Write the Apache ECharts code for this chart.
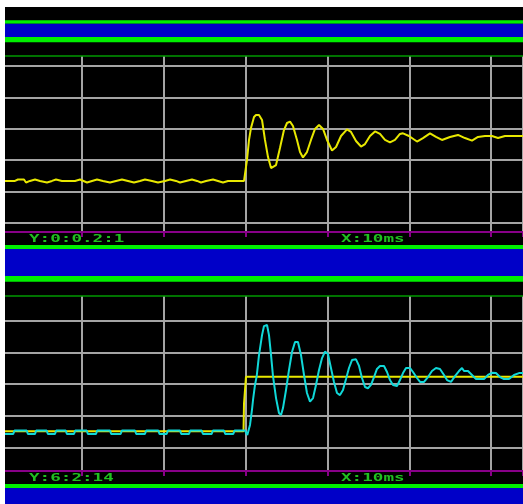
<!DOCTYPE html>
<html>
<head>
<meta charset="utf-8">
<script src="https://cdn.jsdelivr.net/npm/echarts@6/dist/echarts.min.js"></script>
<style>
html,body{margin:0;padding:0;background:#fff;}
#chart{width:523px;height:504px;}
</style>
</head>
<body>
<div id="chart"></div>
<script>
// ---- Data (time in ms, values in axis units) ----
const xMin = 0, xMax = 63.89, xStep = 10;
const topAxisMin = 0, topAxisMax = 1, topAxisStep = 0.2;
const botAxisMin = 6, botAxisMax = 14, botAxisStep = 2;
const topLabelY = "Y:0:0.2:1";
const botLabelY = "Y:6:2:14";
const labelX = "X:10ms";

const topYellowT = [0.61,1.83,2.20,2.93,3.18,3.66,4.28,4.89,5.74,6.35,6.84,7.57,9.16,9.77,10.63,11.24,11.85,12.58,13.44,14.17,14.90,15.64,16.37,17.10,17.71,18.57,19.30,20.16,20.77,21.50,21.99,22.72,23.45,24.07,24.55,25.17,26.02,26.63,27.24,27.85,28.71,29.81,
 30.05,30.17,30.42,30.66,31.03,31.27,31.64,32.01,32.37,32.74,33.11,33.35,33.72,34.20,34.69,35.06,35.43,35.79,36.28,36.65,37.01,37.50,37.99,38.48,38.97,39.46,39.95,40.56,41.05,41.66,42.39,42.88,43.49,44.10,44.59,45.20,45.81,46.42,47.03,47.64,48.25,48.86,49.23,49.96,50.94,51.67,52.53,53.26,53.99,54.97,55.95,56.80,57.66,58.39,59.25,60.10,60.84,61.69,63.89];
const topYellowV = [0.268,0.268,0.277,0.277,0.258,0.268,0.277,0.268,0.258,0.268,0.277,0.268,0.268,0.277,0.258,0.268,0.277,0.268,0.258,0.268,0.277,0.268,0.258,0.268,0.277,0.268,0.258,0.268,0.277,0.268,0.258,0.268,0.277,0.268,0.258,0.268,0.277,0.268,0.258,0.268,0.268,0.268,
 0.274,0.401,0.529,0.605,0.675,0.688,0.688,0.656,0.529,0.420,0.350,0.338,0.369,0.478,0.592,0.637,0.646,0.618,0.529,0.452,0.417,0.452,0.529,0.599,0.624,0.599,0.529,0.462,0.484,0.554,0.596,0.580,0.522,0.487,0.503,0.554,0.583,0.567,0.529,0.513,0.529,0.567,0.571,0.554,0.519,0.541,0.571,0.548,0.529,0.548,0.561,0.541,0.525,0.548,0.554,0.554,0.541,0.554,0.554];

const botYellowT = [0.61,29.75,29.81,29.99,30.05,63.89];
const botYellowV = [7.01,7.01,8.78,8.78,10.46,10.46];

const cyanT = [0.61,1.62,1.77,3.26,3.41,4.28,4.42,5.70,5.85,6.72,6.87,8.03,8.17,9.04,9.19,10.59,10.74,11.73,11.87,13.44,13.58,14.74,14.89,16.49,16.64,17.71,17.86,19.34,19.48,20.36,20.51,21.99,22.14,23.09,23.23,24.64,24.79,25.86,26.01,27.36,27.51,28.50,28.65,29.93,
 30.21,30.54,30.78,30.91,31.15,31.36,31.64,32.01,32.25,32.62,32.86,33.11,33.35,33.72,34.08,34.33,34.57,34.94,35.30,35.67,36.04,36.40,36.77,37.14,37.50,37.87,38.24,38.60,38.97,39.34,39.70,40.07,40.43,40.80,41.17,41.53,41.90,42.27,42.63,43.00,43.49,43.86,44.22,44.59,44.95,45.32,45.69,46.05,46.42,46.91,47.28,47.64,48.01,48.50,48.86,49.23,49.60,50.09,50.45,50.94,51.31,51.80,52.28,52.77,53.26,53.75,54.24,54.61,55.09,55.58,56.07,56.44,56.68,57.17,57.66,58.15,59.13,59.61,60.10,60.59,61.08,61.57,62.18,62.79,63.40,63.89];
const cyanV = [6.84,6.84,7.06,7.06,6.84,6.84,7.06,7.06,6.84,6.84,7.06,7.06,6.84,6.84,7.06,7.06,6.84,6.84,7.06,7.06,6.84,6.84,7.06,7.06,6.84,6.84,7.06,7.06,6.84,6.84,7.06,7.06,6.84,6.84,7.06,7.06,6.84,6.84,7.06,7.06,6.84,6.84,7.06,7.06,
 6.78,7.41,8.36,8.99,9.94,10.50,11.83,13.09,13.66,13.73,13.09,11.83,10.50,9.11,8.17,8.04,8.48,9.62,10.88,12.02,12.65,12.65,11.83,10.57,9.43,8.89,9.11,9.94,10.88,11.64,12.05,11.89,11.01,10.13,9.43,9.30,9.62,10.31,11.01,11.51,11.56,11.14,10.38,9.81,9.73,9.94,10.44,10.95,11.14,11.14,10.76,10.25,9.94,9.87,10.25,10.69,11.01,11.01,10.76,10.38,10.13,10.13,10.44,10.82,11.01,10.95,10.57,10.25,10.13,10.50,10.82,11.01,10.82,10.82,10.57,10.31,10.31,10.57,10.71,10.69,10.44,10.31,10.31,10.57,10.69,10.69];

const zip = (t, v) => t.map((x, i) => [x, v[i]]);

// ---- Styles ----
const GRID_GRAY = '#a4a4a4';
const PURPLE = '#880088';
const BRIGHT_GREEN = '#00f000';
const DARK_GREEN = '#009a00';
const BLUE = '#0000c8';
const TEXT_GREEN = '#20c020';
const YELLOW = '#e8e800';
const CYAN = '#10d8d8';

const chart = echarts.init(document.getElementById('chart'), null, {renderer: 'canvas'});

function frameX(gi) {
  return {
    gridIndex: gi, type: 'value', min: xMin, max: xMax, interval: xStep,
    axisLine: {show: true, onZero: false, lineStyle: {color: PURPLE, width: 2}},
    axisTick: {show: true, inside: false, length: 5, lineStyle: {color: PURPLE, width: 2}},
    axisLabel: {show: false},
    splitLine: {show: true, lineStyle: {color: GRID_GRAY, width: 2}}
  };
}
function dataX(gi) {
  return {gridIndex: gi, type: 'value', min: xMin, max: xMax, show: false};
}
function dataY(gi, mn, mx, st) {
  return {
    gridIndex: gi, type: 'value', min: mn, max: mx, interval: st,
    axisLine: {show: false}, axisTick: {show: false}, axisLabel: {show: false},
    splitLine: {show: true, lineStyle: {color: GRID_GRAY, width: 2}}
  };
}

function band(y, h, color) {
  return {type: 'rect', z: 50, shape: {x: 0, y: y, width: 523, height: h}, style: {fill: color}};
}
function label(x, y, text) {
  return {type: 'text', z: 60, x: x, y: y, scaleX: 1.6, scaleY: 1,
    style: {text: text, fill: TEXT_GREEN, font: 'bold 11px "DejaVu Sans Mono"', verticalAlign: 'middle', align: 'left'}};
}

const option = {
  animation: false,
  backgroundColor: '#000',
  grid: [
    {left: 0, right: 0, top: 56, height: 176},
    {left: 0, right: 0, top: 66, height: 157},
    {left: 0, right: 0, top: 296, height: 175},
    {left: 0, right: 0, top: 320.7, height: 126.6}
  ],
  xAxis: [frameX(0), dataX(1), frameX(2), dataX(3)],
  yAxis: [
    {gridIndex: 0, type: 'value', min: 0, max: 1, show: false},
    dataY(1, topAxisMin, topAxisMax, topAxisStep),
    {gridIndex: 2, type: 'value', min: 0, max: 1, show: false},
    dataY(3, botAxisMin, botAxisMax, botAxisStep)
  ],
  series: [
    {type: 'line', xAxisIndex: 1, yAxisIndex: 1, data: zip(topYellowT, topYellowV), showSymbol: false, clip: false,
     lineStyle: {color: YELLOW, width: 2}},
    {type: 'line', xAxisIndex: 3, yAxisIndex: 3, data: zip(botYellowT, botYellowV), showSymbol: false, clip: false,
     lineStyle: {color: YELLOW, width: 2}},
    {type: 'line', xAxisIndex: 3, yAxisIndex: 3, data: zip(cyanT, cyanV), showSymbol: false, clip: false,
     lineStyle: {color: CYAN, width: 2}}
  ],
  graphic: [
    band(20.3, 3.4, BRIGHT_GREEN),
    band(23.7, 13.3, BLUE),
    band(37, 5.3, BRIGHT_GREEN),
    band(55.3, 1.5, DARK_GREEN),
    band(245, 4, BRIGHT_GREEN),
    band(249, 27, BLUE),
    band(276, 5.7, BRIGHT_GREEN),
    band(295.3, 1.5, DARK_GREEN),
    band(484, 4, BRIGHT_GREEN),
    band(488, 16, BLUE),
    label(29, 239, topLabelY),
    label(341, 239, labelX),
    label(29, 478, botLabelY),
    label(341, 478, labelX),
    {type: 'rect', z: 100, shape: {x: 0, y: 0, width: 523, height: 7}, style: {fill: '#fff'}},
    {type: 'rect', z: 100, shape: {x: 0, y: 0, width: 5, height: 504}, style: {fill: '#fff'}}
  ]
};
chart.setOption(option);
</script>
</body>
</html>
